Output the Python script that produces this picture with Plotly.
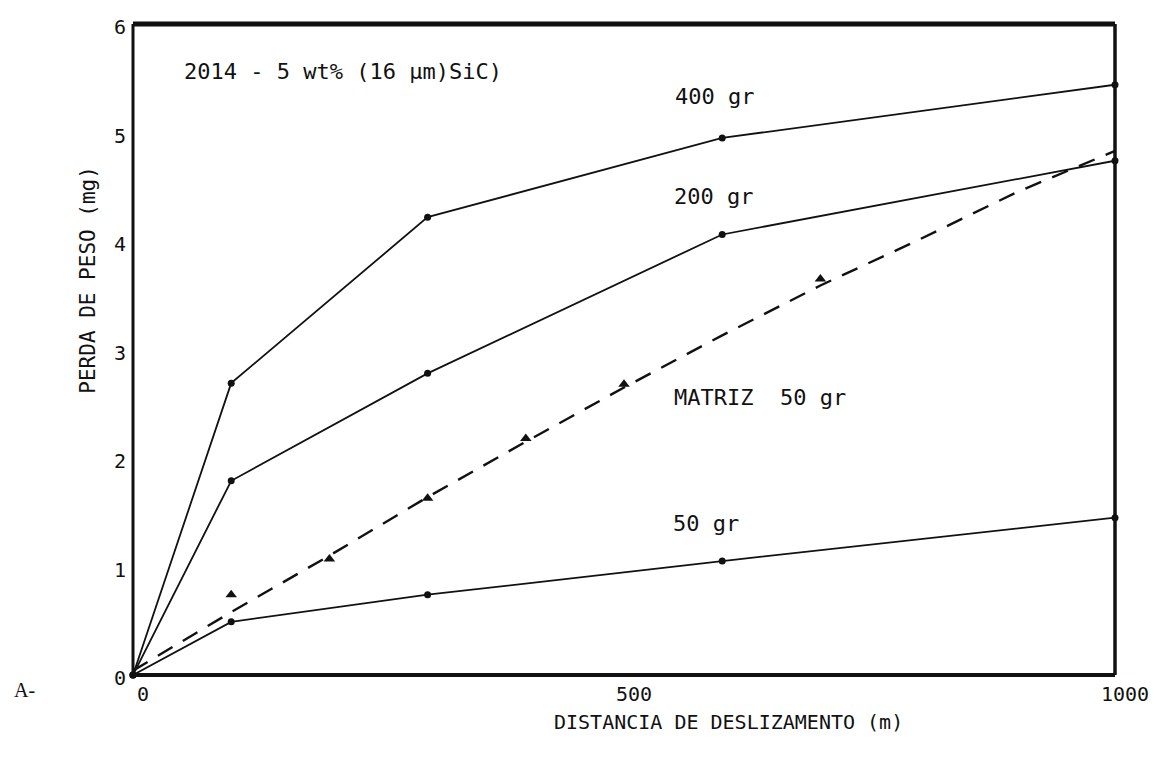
import plotly.graph_objects as go

# ---- data ----
distance = [0, 100, 300, 600, 1000]
loss_400gr = [0, 2.69, 4.22, 4.95, 5.44]
loss_200gr = [0, 1.79, 2.78, 4.06, 4.74]
loss_50gr = [0, 0.49, 0.74, 1.05, 1.45]

matrix_x = [100, 200, 300, 400, 500, 700]
matrix_y = [0.74, 1.07, 1.63, 2.18, 2.68, 3.65]

matrix_fit_x = [0, 100, 200, 300, 400, 500, 600, 700, 800, 900, 1000]
matrix_fit_y = [0.04, 0.58, 1.10, 1.64, 2.15, 2.65, 3.13, 3.59, 4.01, 4.45, 4.83]

x_ticks = [0, 500, 1000]
y_ticks = [0, 1, 2, 3, 4, 5, 6]

MONO = "DejaVu Sans Mono"
BLACK = "#111111"

fig = go.Figure()

for ys in (loss_400gr, loss_200gr, loss_50gr):
    fig.add_trace(go.Scatter(
        x=distance, y=ys, mode="lines+markers",
        line=dict(color=BLACK, width=1.8),
        marker=dict(symbol="circle", size=7, color=BLACK),
        showlegend=False, cliponaxis=False, hoverinfo="skip"))

fig.add_trace(go.Scatter(
    x=matrix_fit_x, y=matrix_fit_y, mode="lines",
    line=dict(color=BLACK, width=2.4, dash="17px,12px"),
    showlegend=False, hoverinfo="skip"))

fig.add_trace(go.Scatter(
    x=matrix_x, y=matrix_y, mode="markers",
    marker=dict(symbol="triangle-up", size=10, color=BLACK),
    showlegend=False, hoverinfo="skip"))

# frame
for x0, y0, x1, y1, w in [(0, 0, 1, 0, 4), (0, 1, 1, 1, 5),
                          (0, 0, 0, 1, 3), (1, 0, 1, 1, 3.5)]:
    fig.add_shape(type="line", xref="paper", yref="paper",
                  x0=x0, y0=y0, x1=x1, y1=y1,
                  line=dict(color=BLACK, width=w))

label_font = dict(family=MONO, size=22, color=BLACK)
annotations = [
    dict(text="2014 - 5 wt% (16 µm)SiC)", x=50, y=5.56, xref="x", yref="y",
         xanchor="left", yanchor="middle", showarrow=False, font=label_font),
    dict(text="400 gr", x=592, y=5.33, xref="x", yref="y",
         xanchor="center", yanchor="middle", showarrow=False, font=label_font),
    dict(text="200 gr", x=591, y=4.41, xref="x", yref="y",
         xanchor="center", yanchor="middle", showarrow=False, font=label_font),
    dict(text="MATRIZ  50 gr", x=638, y=2.56, xref="x", yref="y",
         xanchor="center", yanchor="middle", showarrow=False, font=label_font),
    dict(text="50 gr", x=583, y=1.40, xref="x", yref="y",
         xanchor="center", yanchor="middle", showarrow=False, font=label_font),
    dict(text="PERDA DE PESO (mg)", x=-0.046, y=0.607, xref="paper", yref="paper",
         xanchor="center", yanchor="middle", textangle=-90, showarrow=False,
         font=dict(family=MONO, size=21, color=BLACK)),
    dict(text="DISTANCIA DE DESLIZAMENTO (m)", x=0.606, y=-0.0722,
         xref="paper", yref="paper", xanchor="center", yanchor="middle",
         showarrow=False, font=dict(family=MONO, size=20, color=BLACK)),
    dict(text="A-", x=-0.11, y=-0.023, xref="paper", yref="paper",
         xanchor="center", yanchor="middle", showarrow=False,
         font=dict(family="Liberation Serif", size=20, color=BLACK)),
]

fig.update_layout(
    width=1162, height=758,
    margin=dict(l=133, r=47, t=24, b=83),
    paper_bgcolor="white", plot_bgcolor="white",
    annotations=annotations,
    xaxis=dict(range=[0, 1000], tickvals=x_ticks, ticktext=[str(v) for v in x_ticks],
               showgrid=False, zeroline=False, showline=False, ticks="",
               tickfont=dict(family=MONO, size=20, color=BLACK),
               ticklabelshift=10, ticklabelstandoff=5),
    yaxis=dict(range=[0, 6], tickvals=y_ticks, ticktext=[str(v) for v in y_ticks],
               showgrid=False, zeroline=False, showline=False, ticks="",
               tickfont=dict(family=MONO, size=20, color=BLACK),
               ticklabelshift=3, ticklabelstandoff=6),
)

fig.write_html("out.html")
